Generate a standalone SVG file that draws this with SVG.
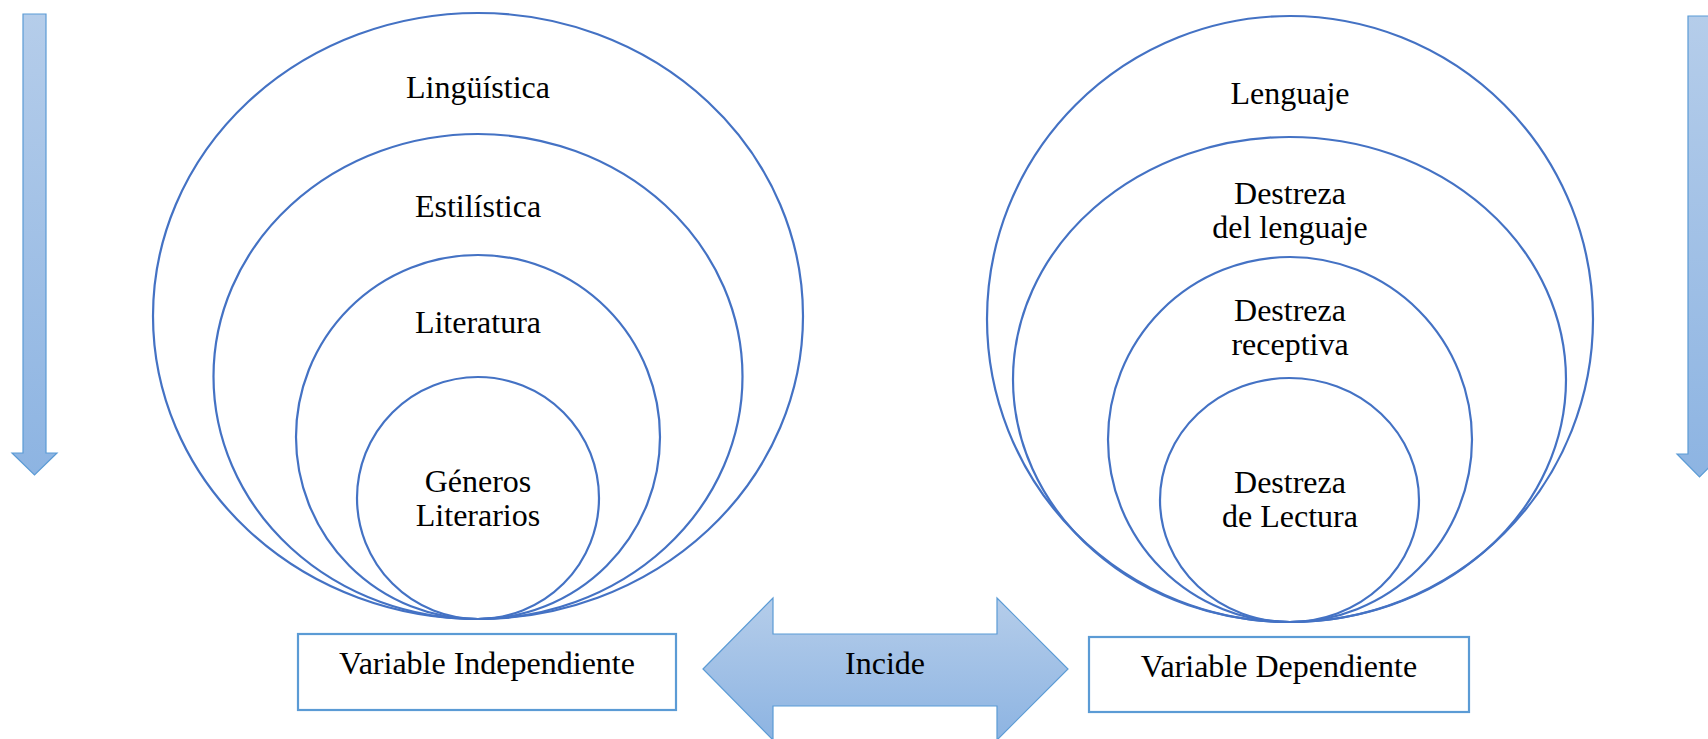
<svg xmlns="http://www.w3.org/2000/svg" width="1708" height="739" viewBox="0 0 1708 739">
  <defs>
    <linearGradient id="gv" x1="0" y1="0" x2="0" y2="1">
      <stop offset="0" stop-color="#B5CDEA"/>
      <stop offset="1" stop-color="#8DB4E2"/>
    </linearGradient>
    <style>
      .ring { fill: none; stroke: #4472C4; stroke-width: 2.2; }
      .box { fill: #FFFFFF; stroke: #5B9BD5; stroke-width: 2.2; }
      .arrow { fill: url(#gv); stroke: #5B9BD5; stroke-width: 1.2; }
      .t { font-family: "Liberation Serif", "Times New Roman", serif; font-size: 32px; fill: #000000; text-anchor: middle; }
    </style>
  </defs>
  <rect width="1708" height="739" fill="#FFFFFF"/>

  <g id="arrow-left-down">
    <path class="arrow" d="M23,14 L46,14 L46,453 L57,453 L34.5,475 L12,453 L23,453 Z"/>
  </g>
  <g id="arrow-right-down">
    <path class="arrow" d="M1688,16 L1711,16 L1711,454 L1722,454 L1699.5,477 L1677,454 L1688,454 Z"/>
  </g>

  <g id="group-left">
    <g id="n-linguistica">
      <ellipse class="ring" cx="478" cy="316" rx="325" ry="303"/>
      <text class="t" x="478" y="98">Lingüística</text>
    </g>
    <g id="n-estilistica">
      <ellipse class="ring" cx="478" cy="376.5" rx="264.5" ry="242.5"/>
      <text class="t" x="478" y="217">Estilística</text>
    </g>
    <g id="n-literatura">
      <ellipse class="ring" cx="478" cy="437" rx="182" ry="182"/>
      <text class="t" x="478" y="333">Literatura</text>
    </g>
    <g id="n-generos">
      <ellipse class="ring" cx="478" cy="498" rx="121" ry="121"/>
      <text class="t" x="478" y="492">Géneros</text>
      <text class="t" x="478" y="526">Literarios</text>
    </g>
  </g>

  <g id="group-right">
    <g id="n-lenguaje">
      <ellipse class="ring" cx="1290" cy="319" rx="303" ry="303"/>
      <text class="t" x="1290" y="104">Lenguaje</text>
    </g>
    <g id="n-destreza-lenguaje">
      <ellipse class="ring" cx="1289.5" cy="379.5" rx="276.5" ry="242.5"/>
      <text class="t" x="1290" y="204">Destreza</text>
      <text class="t" x="1290" y="238">del lenguaje</text>
    </g>
    <g id="n-destreza-receptiva">
      <ellipse class="ring" cx="1290" cy="439.5" rx="182" ry="182.5"/>
      <text class="t" x="1290" y="321">Destreza</text>
      <text class="t" x="1290" y="355">receptiva</text>
    </g>
    <g id="n-destreza-lectura">
      <ellipse class="ring" cx="1289.5" cy="500" rx="129.5" ry="122"/>
      <text class="t" x="1290" y="493">Destreza</text>
      <text class="t" x="1290" y="527">de Lectura</text>
    </g>
  </g>

  <g id="n-var-independiente">
    <rect class="box" x="298" y="634" width="378" height="76"/>
    <text class="t" x="487" y="674">Variable Independiente</text>
  </g>
  <g id="n-var-dependiente">
    <rect class="box" x="1089" y="637" width="380" height="75"/>
    <text class="t" x="1279" y="677">Variable Dependiente</text>
  </g>

  <g id="connectors">
    <path class="arrow" d="M703,669 L773,598 L773,634 L997,634 L997,598 L1068,669 L997,740 L997,706 L773,706 L773,740 Z"/>
    <text class="t" x="885" y="674">Incide</text>
  </g>
</svg>
